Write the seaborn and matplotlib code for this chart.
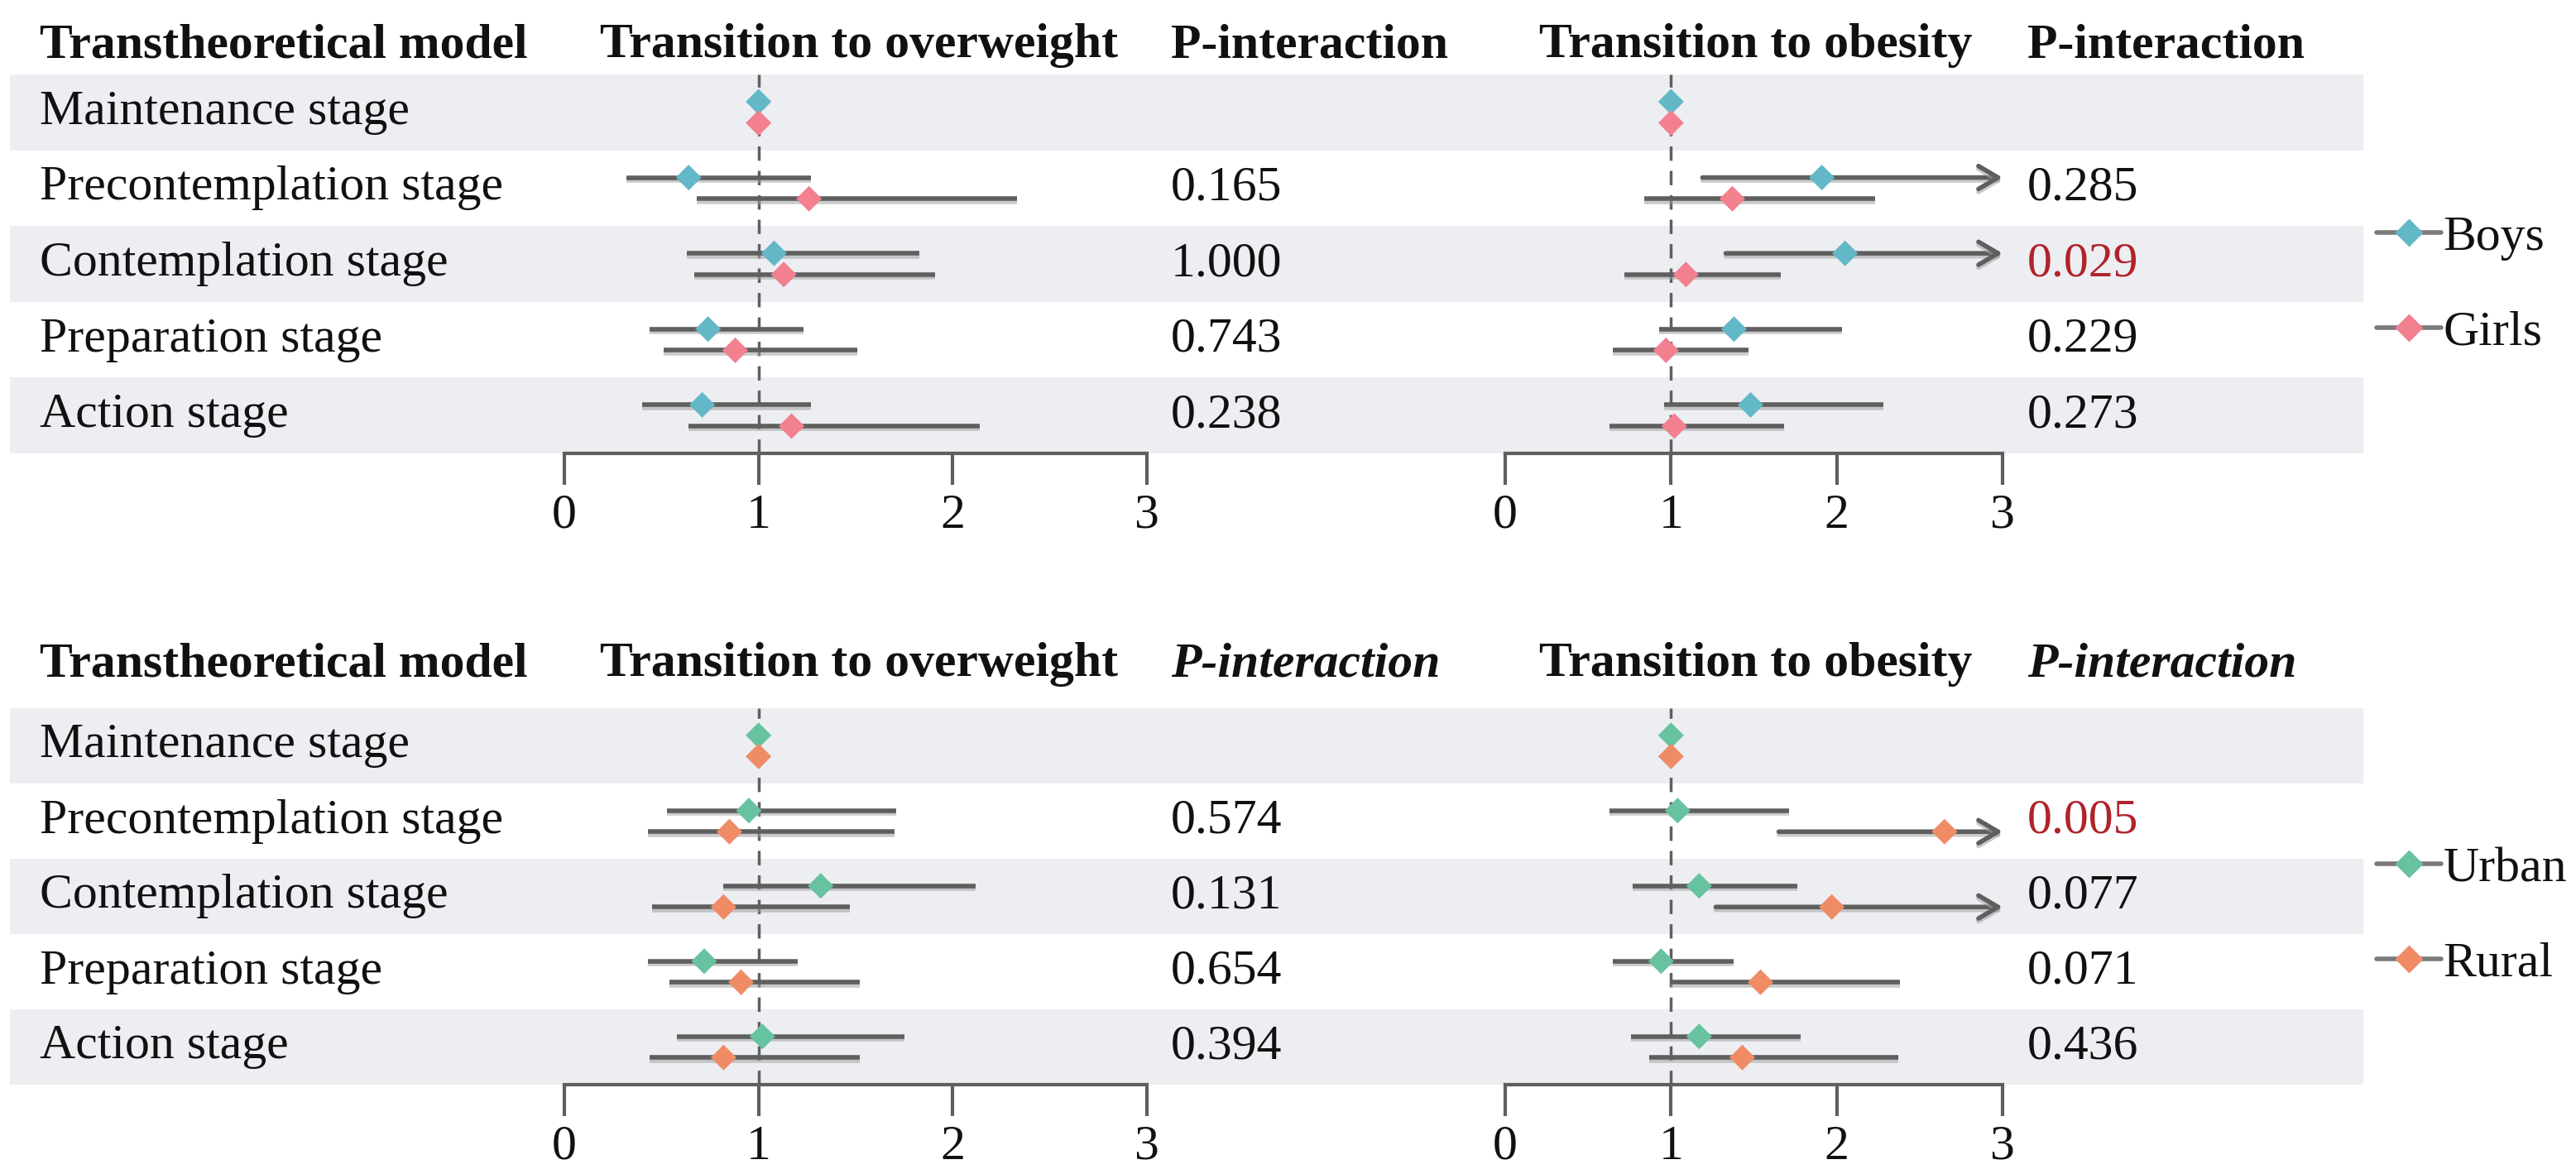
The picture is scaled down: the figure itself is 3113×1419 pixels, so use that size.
import matplotlib
matplotlib.use('Agg')
import matplotlib.pyplot as plt
import matplotlib.patheffects as pe
from matplotlib.lines import Line2D
from matplotlib.transforms import blended_transform_factory
import seaborn as sns
import numpy as np
import pandas as pd

stages = ['Maintenance stage', 'Precontemplation stage', 'Contemplation stage',
          'Preparation stage', 'Action stage']

# panel 1: sex, transition to overweight
boys_ow = [1.00, 0.64, 1.08, 0.74, 0.71]
boys_ow_lo = [1.00, 0.32, 0.63, 0.44, 0.40]
boys_ow_hi = [1.00, 1.27, 1.83, 1.23, 1.27]
girls_ow = [1.00, 1.26, 1.13, 0.88, 1.17]
girls_ow_lo = [1.00, 0.68, 0.67, 0.51, 0.64]
girls_ow_hi = [1.00, 2.33, 1.91, 1.51, 2.14]
p_sex_ow = ['', '0.165', '1.000', '0.743', '0.238']

# panel 1: sex, transition to obesity (upper CI beyond 3 drawn as arrow)
boys_ob = [1.00, 1.91, 2.05, 1.38, 1.48]
boys_ob_lo = [1.00, 1.19, 1.33, 0.93, 0.96]
boys_ob_hi = [1.00, 3.40, 3.40, 2.03, 2.28]
girls_ob = [1.00, 1.37, 1.09, 0.97, 1.02]
girls_ob_lo = [1.00, 0.84, 0.72, 0.65, 0.63]
girls_ob_hi = [1.00, 2.23, 1.66, 1.47, 1.68]
p_sex_ob = ['', '0.285', '0.029', '0.229', '0.273']

# panel 2: residence, transition to overweight
urban_ow = [1.00, 0.95, 1.32, 0.72, 1.02]
urban_ow_lo = [1.00, 0.53, 0.82, 0.43, 0.58]
urban_ow_hi = [1.00, 1.71, 2.12, 1.20, 1.75]
rural_ow = [1.00, 0.85, 0.82, 0.91, 0.82]
rural_ow_lo = [1.00, 0.43, 0.45, 0.54, 0.44]
rural_ow_hi = [1.00, 1.70, 1.47, 1.52, 1.52]
p_res_ow = ['', '0.574', '0.131', '0.654', '0.394']

# panel 2: residence, transition to obesity
urban_ob = [1.00, 1.04, 1.17, 0.94, 1.17]
urban_ob_lo = [1.00, 0.63, 0.77, 0.65, 0.76]
urban_ob_hi = [1.00, 1.71, 1.76, 1.38, 1.78]
rural_ob = [1.00, 2.65, 1.97, 1.54, 1.43]
rural_ob_lo = [1.00, 1.65, 1.27, 1.00, 0.87]
rural_ob_hi = [1.00, 3.40, 3.40, 2.38, 2.37]
p_res_ob = ['', '0.005', '0.077', '0.071', '0.436']

significant = ['0.029', '0.005']

sns.set_theme(style='white')
plt.rcParams['font.family'] = ['Liberation Serif', 'DejaVu Serif']
plt.rcParams['font.size'] = 43

W, H = 3113, 1419
FS = 43
BAND = '#edeef2'
GREY = '#5f5f5f'
RED = '#b0232a'
TXT = '#111111'


def box(x0, y0, x1, y1):
    return [x0 / W, 1 - y1 / H, (x1 - x0) / W, (y1 - y0) / H]


def forest(ax, series, colors):
    ax.patch.set_alpha(0)
    for s in ['top', 'right', 'left']:
        ax.spines[s].set_visible(False)
    ax.spines['bottom'].set_color(GREY)
    ax.spines['bottom'].set_linewidth(3)
    ax.axvline(1, color=GREY, lw=2.5, ls=(0, (5, 3.5)), zorder=1)

    shadow = [pe.SimpleLineShadow(offset=(0, -2.5), shadow_color='#a0a0a0', alpha=0.55), pe.Normal()]
    rows = []
    for (name, est, lo, hi), off in zip(series, [-0.14, 0.14]):
        for i in range(len(stages)):
            y = i + off
            rows.append({'group': name, 'est': est[i], 'y': y})
            if hi[i] > 3:
                ax.annotate('', xy=(3, y), xytext=(lo[i], y), annotation_clip=False,
                            arrowprops=dict(arrowstyle='->,head_length=0.85,head_width=0.5',
                                            color=GREY, lw=4, shrinkA=0, shrinkB=0,
                                            mutation_scale=20, path_effects=shadow), zorder=2)
            elif hi[i] > lo[i]:
                ax.hlines(y, lo[i], hi[i], color=GREY, lw=4, zorder=2, path_effects=shadow)
    df = pd.DataFrame(rows)
    sns.scatterplot(data=df, x='est', y='y', hue='group', palette=colors, marker='D',
                    s=250, linewidth=0, ax=ax, legend=False, zorder=5, clip_on=False)
    ax.set_xlim(0, 3)
    ax.set_ylim(4.5, -0.5)
    ax.set_xticks([0, 1, 2, 3])
    ax.set_xticklabels(['0', '1', '2', '3'])
    ax.set_yticks([])
    ax.tick_params(axis='x', direction='out', length=27, width=3, color=GREY,
                   pad=8, labelsize=FS, labelcolor=TXT, bottom=True)
    ax.set_xlabel('')
    ax.set_ylabel('')


def panel(fig, top, bottom, header_y, series_ow, series_ob, p_ow, p_ob, colors,
          italic_p, legend_y):
    bg = fig.add_axes(box(12, top, 2856, bottom))
    bg.set_xlim(0, 1)
    bg.set_ylim(4.5, -0.5)
    bg.axis('off')
    for i in (0, 2, 4):
        bg.axhspan(i - 0.5, i + 0.5, color=BAND, lw=0)

    tr = blended_transform_factory(fig.transFigure, bg.transData)
    for i, st in enumerate(stages):
        fig.text(48 / W, i, st, transform=tr, va='center', ha='left', fontsize=FS, color=TXT)
    for xpx, pv in [(1415, p_ow), (2450, p_ob)]:
        for i, p in enumerate(pv):
            if p:
                fig.text(xpx / W, i, p, transform=tr, va='center', ha='left', fontsize=FS,
                         color=RED if p in significant else TXT)

    hy = 1 - header_y / H
    pstyle = 'italic' if italic_p else 'normal'
    fig.text(48 / W, hy, 'Transtheoretical model', fontweight='bold', va='center', fontsize=FS, color=TXT)
    fig.text(725 / W, hy, 'Transition to overweight', fontweight='bold', va='center', fontsize=FS, color=TXT)
    fig.text(1415 / W, hy, 'P-interaction', fontweight='bold', fontstyle=pstyle, va='center', fontsize=FS, color=TXT)
    fig.text(1860 / W, hy, 'Transition to obesity', fontweight='bold', va='center', fontsize=FS, color=TXT)
    fig.text(2450 / W, hy, 'P-interaction', fontweight='bold', fontstyle=pstyle, va='center', fontsize=FS, color=TXT)

    ax1 = fig.add_axes(box(682, top, 1386, bottom))
    forest(ax1, series_ow, colors)
    ax2 = fig.add_axes(box(1819, top, 2420, bottom))
    forest(ax2, series_ob, colors)

    handles = [Line2D([], [], color='#7a7a7a', lw=4, marker='D', markersize=16,
                      markerfacecolor=c, markeredgecolor=c) for c in colors.values()]
    fig.legend(handles, list(colors.keys()), loc='center left',
               bbox_to_anchor=(2872 / W, 1 - legend_y / H), frameon=False,
               handlelength=1.3, handletextpad=0.05, labelspacing=1.0,
               borderpad=0, borderaxespad=0, fontsize=FS, labelcolor=TXT)


fig = plt.figure(figsize=(W / 100, H / 100), dpi=100)

sex_colors = {'Boys': '#62b8c6', 'Girls': '#f2808f'}
res_colors = {'Urban': '#67c29f', 'Rural': '#ef8c66'}

panel(fig, 90, 548, 55,
      [('Boys', boys_ow, boys_ow_lo, boys_ow_hi), ('Girls', girls_ow, girls_ow_lo, girls_ow_hi)],
      [('Boys', boys_ob, boys_ob_lo, boys_ob_hi), ('Girls', girls_ob, girls_ob_lo, girls_ob_hi)],
      p_sex_ow, p_sex_ob, sex_colors, False, 345)

panel(fig, 856, 1311, 803,
      [('Urban', urban_ow, urban_ow_lo, urban_ow_hi), ('Rural', rural_ow, rural_ow_lo, rural_ow_hi)],
      [('Urban', urban_ob, urban_ob_lo, urban_ob_hi), ('Rural', rural_ob, rural_ob_lo, rural_ob_hi)],
      p_res_ow, p_res_ob, res_colors, True, 1108)

fig.savefig('out.png', dpi=100, facecolor='white')
